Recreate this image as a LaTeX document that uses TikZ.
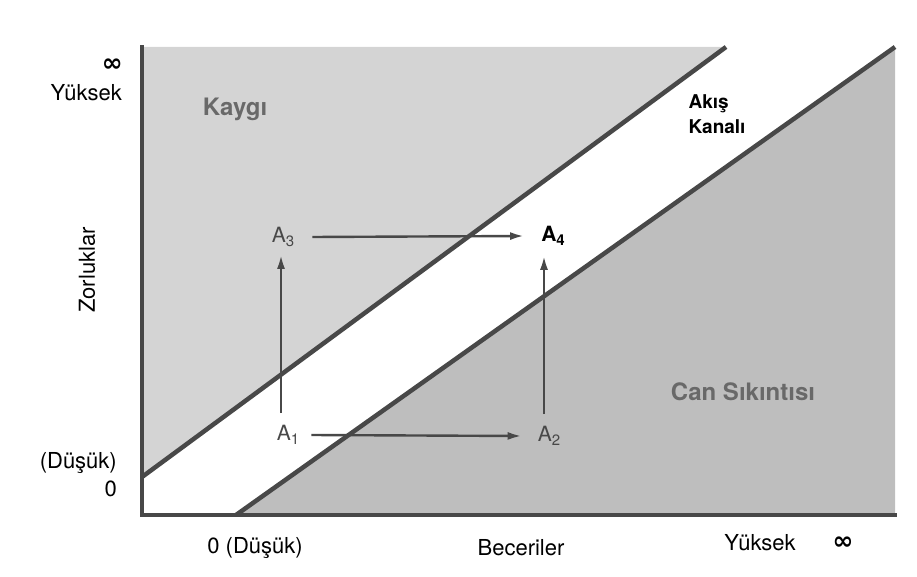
\documentclass[tikz,border=0pt]{standalone}
\usepackage{fontspec}
\setmainfont{TeX Gyre Heros}
\newfontfamily\symbfont{DejaVu Sans}
\usetikzlibrary{arrows.meta,positioning}
\definecolor{Rule}{RGB}{72,72,72}
\definecolor{Worry}{RGB}{212,212,212}
\definecolor{Bored}{RGB}{190,190,190}
\definecolor{Faded}{RGB}{105,105,105}
\newcommand{\ptsub}[1]{\raisebox{-0.35ex}{\fontsize{15}{15}\selectfont #1}}
\newcommand{\infmark}{{\symbfont\bfseries\fontsize{25}{25}\selectfont ∞}}

\begin{document}
\begin{tikzpicture}[x=1pt, y=1pt,
    lbl/.style={font=\fontsize{22}{24}\selectfont, inner sep=1pt},
    zone/.style={font=\fontsize{24}{26}\selectfont\bfseries, text=Faded},
    pt/.style={font=\fontsize{21}{23}\selectfont, text=Rule, inner sep=2pt},
    arr/.style={-{Latex[length=14pt, width=8pt]}, line width=2.4pt, draw=Rule},
    edge/.style={line width=4.5pt, draw=Rule}
  ]
    \useasboundingbox (0,0) rectangle (917,576);
    % shaded regions
    \fill[Worry] (142,529) -- (726,529) -- (142,99) -- cycle;
    \fill[Bored] (236,61) -- (895,529) -- (895,61) -- cycle;
    % channel borders and axes
    \draw[edge] (142,99) -- (726,529);
    \draw[edge] (236,61) -- (895,529);
    \draw[edge, line cap=rect] (142,529) -- (142,61) -- (895,61);
    % points
    \node[pt] (a1) at (288,141) {A\ptsub{1}};
    \node[pt] (a2) at (549,140) {A\ptsub{2}};
    \node[pt] (a3) at (283,339) {A\ptsub{3}};
    \node[pt, font=\fontsize{21}{23}\selectfont\bfseries, text=black] (a4) at (553,340) {A\ptsub{\bfseries 4}};
    \draw[arr] ([xshift=-7pt,yshift=10pt]a1.north) -- ([xshift=-2pt,yshift=-6pt]a3.south);
    \draw[arr] ([xshift=-5pt,yshift=10pt]a2.north) -- ([xshift=-9pt,yshift=-8pt]a4.south);
    \draw[arr] ([xshift=10pt]a1.east) -- ([xshift=-14pt]a2.west);
    \draw[arr] ([xshift=16pt]a3.east) -- ([xshift=-15pt]a4.west);
    % region labels
    \node[zone] (worry) at (235,467) {Kaygı};
    \node[zone] (bored) at (743,184) {Can Sıkıntısı};
    \node[font=\fontsize{19}{25}\selectfont\bfseries, align=left, anchor=west] (flow) at (685,462) {Akış\\Kanalı};
    % axis labels
    \node[lbl, anchor=east] (yinf) at (124,511) {\infmark};
    \node[lbl, anchor=east] (yhigh) at (123,483) {Yüksek};
    \node[lbl, anchor=east] (ylow) at (118,113) {(Düşük)};
    \node[lbl, anchor=east] (yzero) at (118,87) {0};
    \node[lbl, rotate=90] (ytitle) at (87,306) {Zorluklar};
    \node[lbl] (xlow) at (255,28) {0 (Düşük)};
    \node[lbl] (xtitle) at (521,28) {Beceriler};
    \node[lbl] (xhigh) at (760,33) {Yüksek};
    \node[lbl] (xinf) at (843,33) {\infmark};
  \end{tikzpicture}
\end{document}
